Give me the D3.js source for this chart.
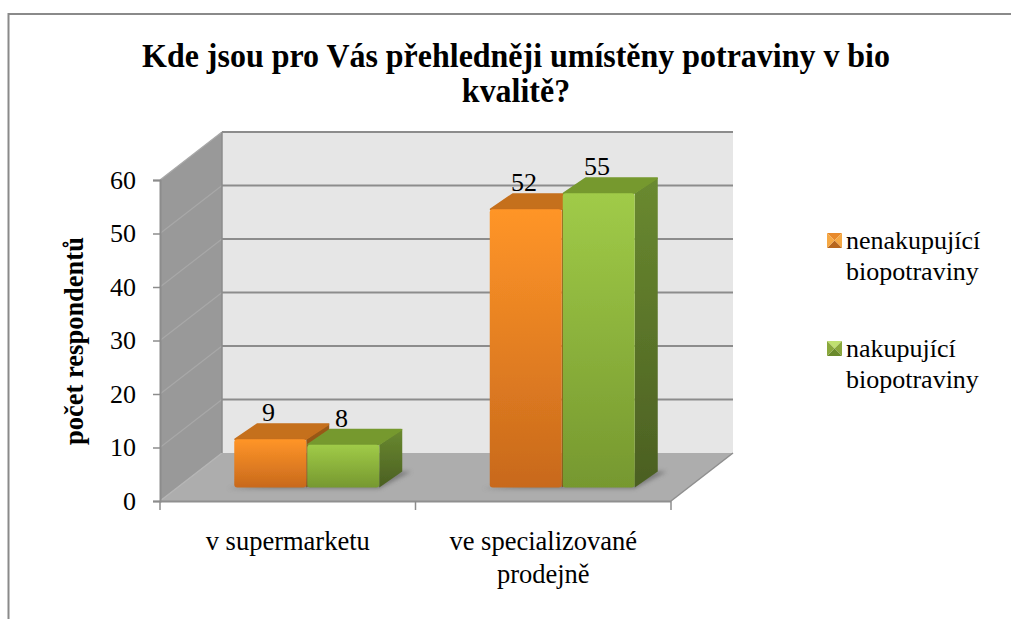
<!DOCTYPE html>
<html><head><meta charset="utf-8">
<script src="https://cdn.jsdelivr.net/npm/d3@7/dist/d3.min.js"></script>
<style>html,body{margin:0;padding:0;background:#fff}svg{display:block}text{font-family:"Liberation Serif",serif;fill:#000}</style>
</head><body><svg id="c" width="1011" height="619"></svg>
<script>
const titleLines=["Kde jsou pro Vás přehledněji umístěny potraviny v bio","kvalitě?"];
const categories=["v supermarketu","ve specializované prodejně"];
const categoryLines=[["v supermarketu"],["ve specializované","prodejně"]];
const seriesNames=["nenakupující biopotraviny","nakupující biopotraviny"];
const legendLines=[["nenakupující","biopotraviny"],["nakupující","biopotraviny"]];
const nenakupujici=[9,52];
const nakupujici=[8,55];
const yTicks=[0,10,20,30,40,50,60];
const yAxisTitle="počet respondentů";

const svg=d3.select("#c"),defs=svg.append("defs");
const x=d3.scaleBand().domain(categories).range([160,671]);
const y=d3.scaleLinear().domain([0,60]).range([501,180]);
const wall={dx:62,dy:-48},plane={dx:19,dy:-13.5},depth={dx:23,dy:-16};
const barW=72.5;
const caps=["#c56f1d","#76992f"];
function grad(id,stops,x2=0,y2=1){const g=defs.append("linearGradient").attr("id",id).attr("x1",0).attr("y1",0).attr("x2",x2).attr("y2",y2);
 stops.forEach((c,i)=>g.append("stop").attr("offset",i/(stops.length-1)).attr("stop-color",c));}
grad("f0",["#ff9528","#c8691c"]);grad("f1",["#a0cb48","#76982f"]);
grad("s0",["#9a5a18","#8a4f14"]);grad("s1",["#6a8a30","#4b5f22"]);
defs.append("filter").attr("id","soft").append("feGaussianBlur").attr("stdDeviation",0.5);
defs.append("filter").attr("id","shadow").attr("x","-20%").attr("y","-30%").attr("width","140%").attr("height","160%").append("feGaussianBlur").attr("stdDeviation",2.2);

// frame
svg.append("path").attr("d","M8.5,619V14H1011").attr("fill","none").attr("stroke","#8a8a8a").attr("stroke-width",2);

// walls
const L=x.range()[0],R=x.range()[1],Y0=y(0),Y1=y(60);
const g=svg.append("g");
const poly=a=>"M"+a.map(p=>p.join(",")).join("L")+"Z";
g.append("path").attr("d",poly([[L+wall.dx,Y1+wall.dy],[R+wall.dx,Y1+wall.dy],[R+wall.dx,Y0+wall.dy],[L+wall.dx,Y0+wall.dy]])).attr("fill","#e6e6e6");
g.append("path").attr("d",poly([[L,Y1],[L+wall.dx,Y1+wall.dy],[L+wall.dx,Y0+wall.dy],[L,Y0]])).attr("fill","#999999");
g.append("path").attr("d",poly([[L,Y0],[R,Y0],[R+wall.dx,Y0+wall.dy],[L+wall.dx,Y0+wall.dy]])).attr("fill","#adadad");
// gridlines
yTicks.forEach(t=>{
 if(t>0) g.append("line").attr("x1",L+wall.dx).attr("x2",R+wall.dx).attr("y1",y(t)+wall.dy).attr("y2",y(t)+wall.dy).attr("stroke","#8c8c8c").attr("stroke-width",2);
 if(t>0) g.append("line").attr("x1",L).attr("x2",L+wall.dx).attr("y1",y(t)).attr("y2",y(t)+wall.dy).attr("stroke","#a8a8a8").attr("stroke-width",1.2);
});
g.append("path").attr("d",`M${R},${Y0}L${R+wall.dx},${Y0+wall.dy}`).attr("stroke","#8f8f8f").attr("stroke-width",1.5);
g.append("path").attr("d",`M${L},${Y0}L${L+wall.dx},${Y0+wall.dy}`).attr("stroke","#b5b5b5").attr("stroke-width",1.5);
g.append("line").attr("x1",L+wall.dx).attr("x2",L+wall.dx).attr("y1",Y1+wall.dy).attr("y2",Y0+wall.dy).attr("stroke","#8c8c8c").attr("stroke-width",1.5);

// axes
const ay=svg.append("g").attr("transform",`translate(${L},0)`).call(d3.axisLeft(y).tickValues(yTicks).tickSize(7).tickPadding(17).tickFormat(d3.format("d")));
ay.select(".domain").attr("stroke","#8c8c8c").attr("stroke-width",2);
ay.selectAll("line").attr("stroke","#8c8c8c").attr("stroke-width",1.5);
ay.selectAll("text").attr("font-size",26).attr("font-family",'"Liberation Serif",serif');
svg.append("line").attr("x1",L).attr("x2",R).attr("y1",Y0+.5).attr("y2",Y0+.5).attr("stroke","#8f8f8f").attr("stroke-width",2);
[L,L+x.bandwidth(),R].forEach(v=>svg.append("line").attr("x1",v).attr("x2",v).attr("y1",Y0).attr("y2",Y0+9).attr("stroke","#8c8c8c").attr("stroke-width",1.5));

// bars
const series=[nenakupujici,nakupujici];
categories.forEach((c,ci)=>{
 const cx=x(c)+x.bandwidth()/2+plane.dx, base=Y0+plane.dy;
 svg.append("path").attr("filter","url(#shadow)").attr("fill","#6a6a6a").attr("opacity",.75)
  .attr("d",poly([[cx-barW-7,base+1],[cx+barW,base+1],[cx+barW+depth.dx+9,base+depth.dy],[cx+barW,base+depth.dy]]));
 const bars=svg.append("g").attr("filter","url(#soft)");
 series.forEach((vals,si)=>{
  const v=vals[ci], x0=cx-barW+si*barW+si*.5, x1=x0+barW-0.5, t=base-(Y0-y(v));
  bars.append("path").attr("fill",`url(#s${si})`).attr("d",poly([[x1,t],[x1+depth.dx,t+depth.dy],[x1+depth.dx,base+depth.dy],[x1,base]]));
  bars.append("path").attr("fill",caps[si]).attr("stroke",caps[si]).attr("stroke-width",2).attr("stroke-linejoin","round").attr("d",poly([[x0+1,t],[x0+depth.dx,t+depth.dy+1],[x1+depth.dx-1,t+depth.dy+1],[x1-1,t]]));
  bars.append("rect").attr("x",x0).attr("y",t).attr("width",x1-x0).attr("height",base-t).attr("rx",3).attr("fill",`url(#f${si})`);
  svg.append("text").attr("x",x0+barW/2-2).attr("y",t-18).attr("text-anchor","middle").attr("font-size",26).text(v);
 });
});

// category labels
categories.forEach((c,i)=>{
 categoryLines[i].forEach((s,j)=>svg.append("text").attr("x",x(c)+x.bandwidth()/2).attr("y",550+j*33).attr("text-anchor","middle").attr("font-size",26.5).text(s));
});
// y title
svg.append("text").attr("transform","translate(83,341) rotate(-90)").attr("text-anchor","middle").attr("font-size",26.5).attr("font-weight","bold").text(yAxisTitle);
// title (condensed slightly, as in the reference)
titleLines.forEach((s,i)=>svg.append("text").attr("transform",`translate(516,${67+i*35}) scale(.94,1)`).attr("text-anchor","middle").attr("font-size",34).attr("font-weight","bold").text(s));

// legend
const swatch=[["#e88a2c","#f5a844","#b8661e"],["#c0e070","#8aa83c","#6a8a2c"]];
seriesNames.forEach((n,i)=>{
 const sx=827,sy=i===0?233:341,s=15,cxx=sx+s/2,cyy=sy+s/2,q=swatch[i];
 const lg=svg.append("g");
 const cols=[q[0],q[1],q[2],q[1]];
 [[[sx,sy],[sx+s,sy]],[[sx+s,sy],[sx+s,sy+s]],[[sx+s,sy+s],[sx,sy+s]],[[sx,sy+s],[sx,sy]]].forEach((e,k)=>
  lg.append("path").attr("d",poly([e[0],e[1],[cxx,cyy]])).attr("fill",cols[k]));
 legendLines[i].forEach((t,j)=>svg.append("text").attr("x",846).attr("y",(i===0?249:357)+j*31).attr("font-size",26).text(t));
});
</script></body></html>
